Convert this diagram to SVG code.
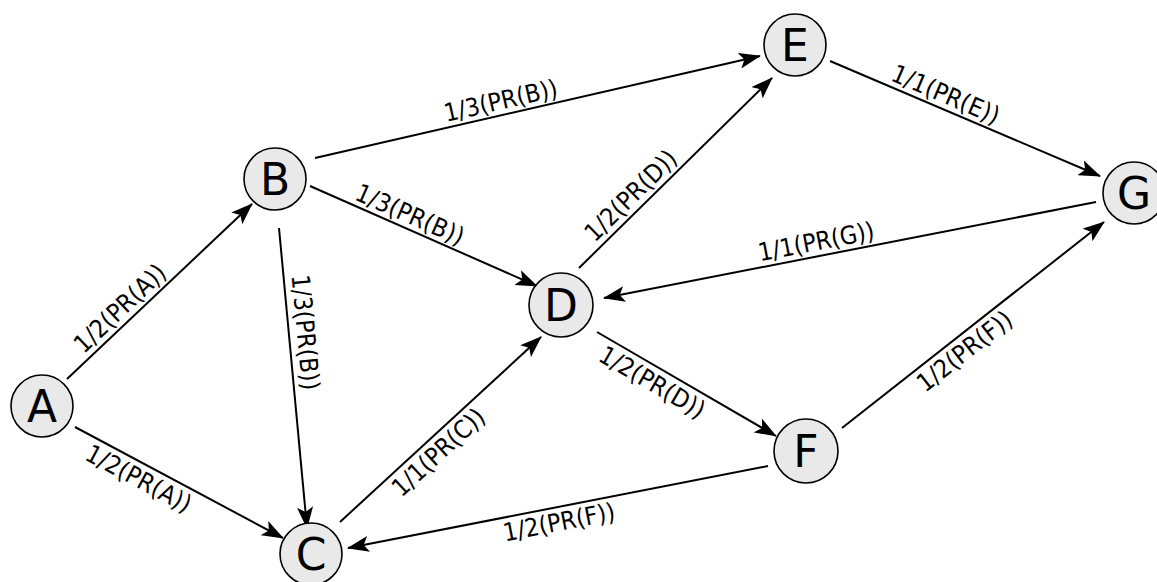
<svg xmlns="http://www.w3.org/2000/svg" width="1157" height="582" viewBox="0 0 1157 582">
<style>
.node circle{fill:#e9e9e9;stroke:#000;stroke-width:1.6}
.node text{font-family:"DejaVu Sans",sans-serif;font-size:44px;text-anchor:middle;fill:#000}
.edge line{stroke:#000;stroke-width:2;marker-end:url(#arr)}
.lbl{font-family:"DejaVu Sans Condensed","DejaVu Sans",sans-serif;font-size:25px;text-anchor:middle;fill:#000}
</style>
<defs>
<marker id="arr" viewBox="0 0 22 16" refX="21" refY="8" markerWidth="22" markerHeight="16" orient="auto" markerUnits="userSpaceOnUse">
<path d="M0,0 L22,8 L0,16 L5,8 Z" fill="#000"/>
</marker>
</defs>
<rect width="1157" height="582" fill="#fff"/>
<g id="connectors">
<g class="edge" id="e-AB"><line x1="67" y1="379" x2="252" y2="204"/><text class="lbl" y="-6" transform="translate(130,319) rotate(-43.4)">1/2(PR(A))</text></g>
<g class="edge" id="e-AC"><line x1="75" y1="427" x2="283" y2="538"/><text class="lbl" y="24" transform="translate(146,465) rotate(28.1)">1/2(PR(A))</text></g>
<g class="edge" id="e-BC"><line x1="279" y1="228" x2="307" y2="528"/><text class="lbl" y="-8" transform="translate(289,334) rotate(84.7)">1/3(PR(B))</text></g>
<g class="edge" id="e-BD"><line x1="310" y1="186" x2="537" y2="286"/><text class="lbl" y="-6" transform="translate(404,228) rotate(23.8)">1/3(PR(B))</text></g>
<g class="edge" id="e-BE"><line x1="315" y1="158" x2="760" y2="56"/><text class="lbl" y="-6" transform="translate(504,115) rotate(-12.9)">1/3(PR(B))</text></g>
<g class="edge" id="e-CD"><line x1="340" y1="522" x2="541" y2="337"/><text class="lbl" y="24" transform="translate(428,441) rotate(-42.6)">1/1(PR(C))</text></g>
<g class="edge" id="e-DE"><line x1="579" y1="268" x2="772" y2="78"/><text class="lbl" y="-6" transform="translate(641,206) rotate(-44.5)">1/2(PR(D))</text></g>
<g class="edge" id="e-DF"><line x1="597" y1="332" x2="776" y2="436"/><text class="lbl" y="24" transform="translate(660,369) rotate(30.2)">1/2(PR(D))</text></g>
<g class="edge" id="e-FC"><line x1="768" y1="466" x2="348" y2="548"/><text class="lbl" y="24" transform="translate(556,507) rotate(-11)">1/2(PR(F))</text></g>
<g class="edge" id="e-FG"><line x1="842" y1="428" x2="1104" y2="222"/><text class="lbl" y="24" transform="translate(955,339) rotate(-38.2)">1/2(PR(F))</text></g>
<g class="edge" id="e-EG"><line x1="830" y1="61" x2="1100" y2="176"/><text class="lbl" y="-6" transform="translate(940,108) rotate(23.1)">1/1(PR(E))</text></g>
<g class="edge" id="e-GD"><line x1="1096" y1="202" x2="604" y2="298"/><text class="lbl" y="-6" transform="translate(819,256) rotate(-11)">1/1(PR(G))</text></g>
</g>
<g class="node" id="A"><circle cx="42" cy="406" r="31"/><text x="42" y="422">A</text></g>
<g class="node" id="B"><circle cx="275" cy="179" r="31"/><text x="275" y="195">B</text></g>
<g class="node" id="C"><circle cx="311" cy="554" r="31"/><text x="311" y="570">C</text></g>
<g class="node" id="D"><circle cx="561" cy="305" r="32"/><text x="561" y="321">D</text></g>
<g class="node" id="E"><circle cx="795" cy="45" r="31"/><text x="795" y="61">E</text></g>
<g class="node" id="F"><circle cx="806" cy="451" r="32"/><text x="806" y="467">F</text></g>
<g class="node" id="G"><circle cx="1134" cy="193" r="31"/><text x="1134" y="209">G</text></g>
</svg>
